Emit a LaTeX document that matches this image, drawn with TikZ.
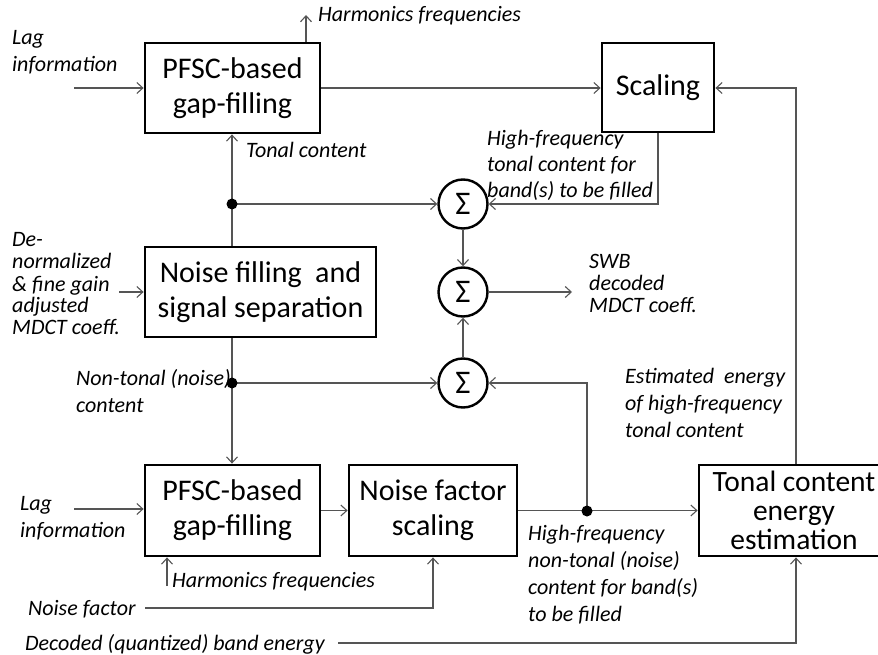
\documentclass[tikz,border=0pt]{standalone}
\usepackage{fontspec}
\setmainfont{Carlito}
\usetikzlibrary{arrows.meta,calc}
\definecolor{wirec}{RGB}{85,85,85}
\newcommand{\stk}[1]{\vtop{#1}}
\begin{document}
\begin{tikzpicture}[x=1pt,y=-1pt,
 blk/.style={draw=black,line width=2.8pt,inner sep=0,align=center,font=\fontsize{30}{35}\selectfont},
 sumnode/.style={circle,draw=black,line width=2.4pt,minimum size=49pt,inner sep=0,font=\fontsize{33}{33}\selectfont},
 wire/.style={draw=wirec,line width=1.1pt},
 arr/.style={wire,-{Straight Barb[length=6pt,width=11pt,line width=1.1pt]}},
 lab/.style={anchor=base west,inner sep=0,font=\fontsize{22}{27}\selectfont\itshape},
 labs/.style={anchor=base west,inner sep=0,font=\fontsize{22}{22}\selectfont\itshape},
 labm/.style={anchor=base west,inner sep=0,font=\fontsize{22}{26}\selectfont\itshape},
 jdot/.style={circle,fill=black,inner sep=0,minimum size=11pt}]
\useasboundingbox (0,0) rectangle (878,655);

% blocks
\node[blk,minimum width=175pt,minimum height=90pt] (pf1) at (232.5,88) {PFSC-based\\gap-filling};
\node[blk,minimum width=112pt,minimum height=89pt] (sc) at (658,87.5) {Scaling};
\node[blk,minimum width=231pt,minimum height=90pt] (nf) at (260.5,292) {Noise filling\ \ and\\signal separation};
\node[blk,minimum width=175pt,minimum height=91pt] (pf2) at (232.5,510.5) {PFSC-based\\gap-filling};
\node[blk,minimum width=168pt,minimum height=91pt] (nfs) at (433,510.5) {Noise factor\\scaling};
\node[blk,minimum width=190pt,minimum height=91pt,font=\fontsize{29.5}{29}\selectfont] (tce) at (794,510.5) {Tonal content\\energy\\estimation};

% sums
\node[sumnode] (s1) at (463,204) {Σ};
\node[sumnode] (s2) at (463,292) {Σ};
\node[sumnode] (s3) at (463,383) {Σ};

% junctions and free ends
\coordinate (d1) at (232,204);
\coordinate (d2) at (232,383);
\coordinate (d3) at (587,511);
\coordinate (lagin1) at (74,88);
\coordinate (harm1) at (306,15);
\coordinate (fb) at (796,88);
\coordinate (denorm) at (119,292);
\coordinate (swb) at (572,292);
\coordinate (lagin2) at (74,509);
\coordinate (harm2) at (167,586);
\coordinate (nfac) at (145,608);
\coordinate (nfc) at (433,608);
\coordinate (dec) at (338,643);
\coordinate (decc) at (796,643);
\coordinate (d3up) at (587,383);

% connectors
\draw[arr] (lagin1) -- (lagin1 -| pf1.west);
\draw[arr] (pf1.north -| harm1) -- (harm1);
\draw[arr] (pf1.east) -- (pf1.east -| sc.west);
\draw[arr] (tce.north -| fb) -- (fb) -- (fb -| sc.east);
\draw[arr] (sc.south) -- (sc.south |- s1) -- (s1.east);
\draw[arr] (nf.north -| d1) -- (d1) -- (d1 |- pf1.south);
\draw[arr] (d1) -- (s1.west);
\draw[arr] (denorm) -- (denorm -| nf.west);
\draw[arr] (nf.south -| d2) -- (d2) -- (d2 |- pf2.north);
\draw[arr] (d2) -- (s3.west);
\draw[arr] (s1.south) -- (s2.north);
\draw[arr] (s3.north) -- (s2.south);
\draw[arr] (s2.east) -- (swb);
\draw[arr] (lagin2) -- (lagin2 -| pf2.west);
\draw[arr] (harm2) -- (harm2 |- pf2.south);
\draw[arr] (pf2.east) -- (nfs.west);
\draw[arr] (nfs.east) -- (tce.west);
\draw[arr] (d3) -- (d3up) -- (s3.east);
\draw[arr] (nfac) -- (nfc) -- (nfc |- nfs.south);
\draw[arr] (dec) -- (decc) -- (decc |- tce.south);

\node[jdot] (j1) at (d1) {};
\node[jdot] (j2) at (d2) {};
\node[jdot] (j3) at (d3) {};

% labels
\node[lab] (tHarm1) at (318,22) {Harmonics frequencies};
\node[lab] (tLag1) at (12,45) {\stk{\hbox{Lag}\hbox{information}}};
\node[lab] (tTonal) at (246,158) {Tonal content};
\node[labm] (tHFT) at (487,146) {\stk{\hbox{High-frequency}\hbox{tonal content for}\hbox{band(s)\ to be filled}}};
\node[labs] (tDen) at (12,247) {\stk{\hbox{De-}\hbox{normalized}\hbox{\& fine gain}\hbox{adjusted}\hbox{MDCT coeff.}}};
\node[labs] (tSWB) at (589,268) {\stk{\hbox{SWB}\hbox{decoded}\hbox{MDCT coeff.}}};
\node[lab] (tNT) at (76,385) {\stk{\hbox{Non-tonal (noise)}\hbox{content}}};
\node[lab] (tEst) at (625,383) {\stk{\hbox{Estimated\ \ energy}\hbox{of high-frequency}\hbox{tonal content}}};
\node[lab] (tLag2) at (20,510) {\stk{\hbox{Lag}\hbox{information}}};
\node[lab] (tHarm2) at (172,587) {Harmonics frequencies};
\node[lab] (tHFN) at (528,540) {\stk{\hbox{High-frequency}\hbox{non-tonal\ (noise)}\hbox{content for band(s)}\hbox{to be filled}}};
\node[lab] (tNF) at (28,615) {Noise factor};
\node[lab] (tDec) at (25,650) {Decoded (quantized) band energy};
\end{tikzpicture}
\end{document}
